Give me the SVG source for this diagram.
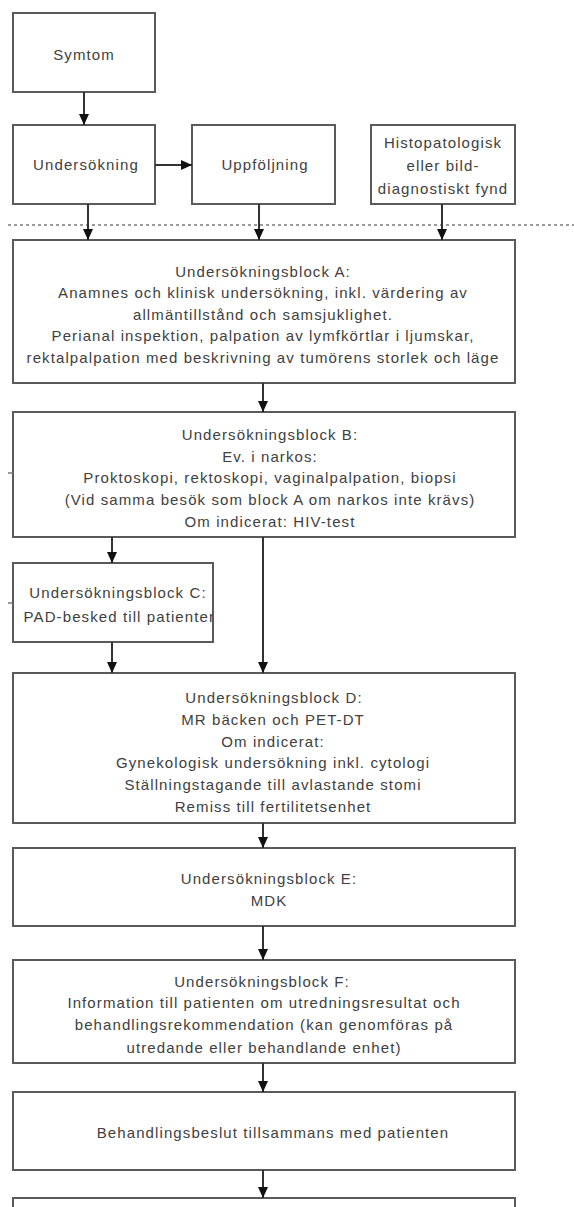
<svg xmlns="http://www.w3.org/2000/svg" width="574" height="1207" viewBox="0 0 574 1207">
<style>
.box{fill:#fff;stroke:#5a5a5a;stroke-width:2}
.t{font-family:"Liberation Sans",Arial,sans-serif;font-size:15px;fill:#404040;text-anchor:middle;letter-spacing:1.1px}
.c{stroke:#333;stroke-width:2;fill:none}
</style>
<defs>
<marker id="ah" markerUnits="userSpaceOnUse" markerWidth="11" markerHeight="11" viewBox="0 0 11 11" refX="11" refY="5.5" orient="auto">
<path d="M0,0.5 L11,5.5 L0,10.5 Z" fill="#111"/>
</marker>
<clipPath id="clipC"><rect x="13" y="563" width="200" height="79"/></clipPath>
</defs>
<line x1="8" y1="225" x2="574" y2="225" stroke="#9a9a9a" stroke-width="2" stroke-dasharray="3,3"/>
<g id="symtom"><rect class="box" x="13" y="13" width="142" height="79"/><text class="t" x="84" y="60">Symtom</text></g>
<g id="undersokning"><rect class="box" x="13" y="125" width="142" height="79"/><text class="t" x="86" y="170">Undersökning</text></g>
<g id="uppfoljning"><rect class="box" x="192" y="125" width="143" height="79"/><text class="t" x="265" y="170">Uppföljning</text></g>
<g id="histo"><rect class="box" x="371" y="125" width="144" height="79"/><text class="t" x="443" y="148">Histopatologisk</text><text class="t" x="443" y="171">eller bild-</text><text class="t" x="443" y="194">diagnostiskt fynd</text></g>
<g id="blockA"><rect class="box" x="13" y="240" width="502" height="143"/>
<text class="t" x="263" y="277">Undersökningsblock A:</text>
<text class="t" x="263" y="298">Anamnes och klinisk undersökning, inkl. värdering av</text>
<text class="t" x="263" y="320">allmäntillstånd och samsjuklighet.</text>
<text class="t" x="263" y="341">Perianal inspektion, palpation av lymfkörtlar i ljumskar,</text>
<text class="t" x="263" y="363">rektalpalpation med beskrivning av tumörens storlek och läge</text></g>
<g id="blockB"><rect class="box" x="13" y="412" width="502" height="125"/>
<text class="t" x="270" y="440">Undersökningsblock B:</text>
<text class="t" x="270" y="462">Ev. i narkos:</text>
<text class="t" x="270" y="483">Proktoskopi, rektoskopi, vaginalpalpation, biopsi</text>
<text class="t" x="270" y="505">(Vid samma besök som block A om narkos inte krävs)</text>
<text class="t" x="270" y="527">Om indicerat: HIV-test</text></g>
<g id="blockC"><rect class="box" x="13" y="563" width="200" height="79"/>
<g clip-path="url(#clipC)"><text class="t" x="118" y="598">Undersökningsblock C:</text>
<text class="t" x="121" y="622">PAD-besked till patienten</text></g></g>
<g id="blockD"><rect class="box" x="13" y="673" width="502" height="150"/>
<text class="t" x="274" y="703">Undersökningsblock D:</text>
<text class="t" x="273" y="725">MR bäcken och PET-DT</text>
<text class="t" x="273" y="747">Om indicerat:</text>
<text class="t" x="273" y="768">Gynekologisk undersökning inkl. cytologi</text>
<text class="t" x="273" y="790">Ställningstagande till avlastande stomi</text>
<text class="t" x="273" y="812">Remiss till fertilitetsenhet</text></g>
<g id="blockE"><rect class="box" x="13" y="848" width="502" height="78"/>
<text class="t" x="269" y="884">Undersökningsblock E:</text>
<text class="t" x="269" y="906">MDK</text></g>
<g id="blockF"><rect class="box" x="13" y="960" width="502" height="103"/>
<text class="t" x="262" y="987">Undersökningsblock F:</text>
<text class="t" x="264" y="1008">Information till patienten om utredningsresultat och</text>
<text class="t" x="264" y="1030">behandlingsrekommendation (kan genomföras på</text>
<text class="t" x="264" y="1053">utredande eller behandlande enhet)</text></g>
<g id="blockG"><rect class="box" x="13" y="1092" width="502" height="78"/>
<text class="t" x="273" y="1138">Behandlingsbeslut tillsammans med patienten</text></g>
<g id="blockH"><rect class="box" x="13" y="1198" width="502" height="30"/></g>
<g id="connectors">
<line class="c" x1="84" y1="92" x2="84" y2="125" marker-end="url(#ah)"/>
<line class="c" x1="155" y1="165" x2="192" y2="165" marker-end="url(#ah)"/>
<line class="c" x1="88" y1="204" x2="88" y2="240" marker-end="url(#ah)"/>
<line class="c" x1="259" y1="204" x2="259" y2="240" marker-end="url(#ah)"/>
<line class="c" x1="442" y1="204" x2="442" y2="240" marker-end="url(#ah)"/>
<line class="c" x1="263" y1="383" x2="263" y2="412" marker-end="url(#ah)"/>
<line class="c" x1="112" y1="537" x2="112" y2="563" marker-end="url(#ah)"/>
<line class="c" x1="263" y1="537" x2="263" y2="673" marker-end="url(#ah)"/>
<line class="c" x1="112" y1="642" x2="112" y2="673" marker-end="url(#ah)"/>
<line class="c" x1="263" y1="823" x2="263" y2="848" marker-end="url(#ah)"/>
<line class="c" x1="263" y1="926" x2="263" y2="960" marker-end="url(#ah)"/>
<line class="c" x1="263" y1="1063" x2="263" y2="1092" marker-end="url(#ah)"/>
<line class="c" x1="263" y1="1170" x2="263" y2="1198" marker-end="url(#ah)"/>
<line x1="8" y1="473" x2="13" y2="473" stroke="#777" stroke-width="1.5"/>
<line x1="8" y1="603" x2="13" y2="603" stroke="#777" stroke-width="1.5"/>
</g>
</svg>
